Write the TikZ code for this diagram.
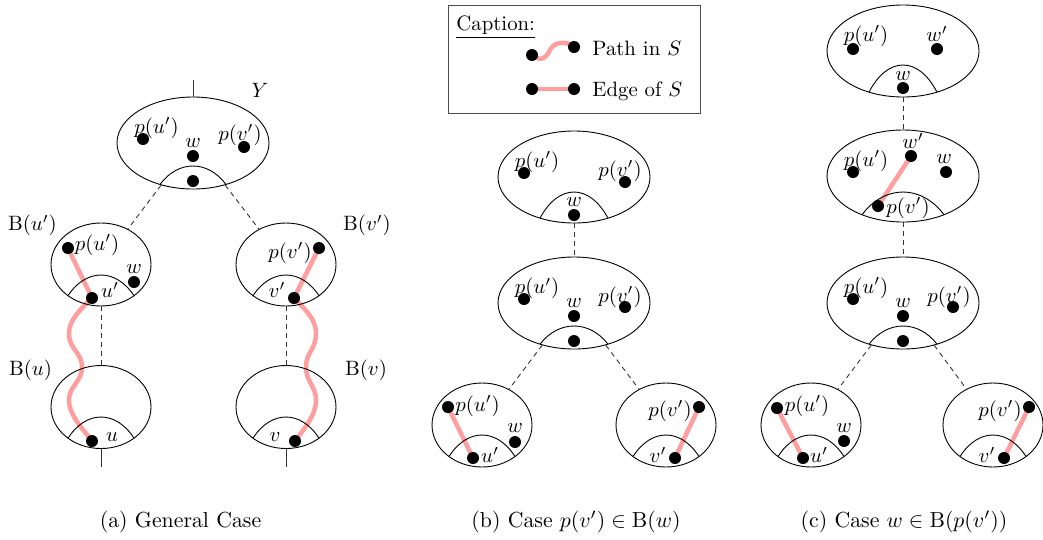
\documentclass[tikz,border=0pt]{standalone}
\usetikzlibrary{shapes.geometric}
\pgfdeclarelayer{background}
\pgfsetlayers{background,main}
\definecolor{pinkS}{RGB}{255,158,158}
\tikzset{
  bag/.style={draw, ellipse, inner sep=0pt, line width=0.9pt},
  bigbag/.style={bag, minimum width=152pt, minimum height=92pt},
  smallbag/.style={bag, minimum width=100pt, minimum height=83pt},
  dotv/.style={circle, fill=black, inner sep=0pt, minimum size=12pt},
  lab/.style={inner sep=0pt, font=\normalsize, scale=2.08},
  subcap/.style={inner sep=0pt, font=\normalsize, scale=2.18, anchor=base},
  sedge/.style={draw=pinkS, line width=4.5pt},
  treeedge/.style={draw=black!80, line width=0.9pt, dash pattern=on 5pt off 4pt},
  tail/.style={draw=black!80, line width=0.9pt},
  humpline/.style={draw, line width=0.9pt},
}
\newcommand\humpat[6]{%
  \pgfmathsetmacro\hyc{#2+#4*sqrt(1-((#5)/(#3))^2)}%
  \pgfmathsetmacro\hyo{(#6-0.25*\hyc)/0.75}%
  \draw[humpline] ({#1-#5},\hyc) .. controls ({#1-0.45*#5},\hyo) and ({#1+0.45*#5},\hyo) .. ({#1+#5},\hyc);%
}
\begin{document}
\begin{tikzpicture}[x=1pt,y=-1pt]
\useasboundingbox (0,0) rectangle (1043,539);

% ================= Panel (a) =================
\node[bigbag] (aY) at (193,143) {};
\coordinate (aYtop) at (193,80);
\draw[tail] (aYtop) -- (aY.north);
\node[lab] (aYlab) at (260,90) {$Y$};
\humpat{193}{143}{76}{46}{33}{166}
\node[lab] (aYpul) at (156.5,128) {$p(u')$};
\node[dotv] (aYpu) at (143,139) {};
\node[lab] (aYwl) at (193,143) {$w$};
\node[dotv] (aYw) at (193,156) {};
\node[lab] (aYpvl) at (240,135) {$p(v')$};
\node[dotv] (aYpv) at (244,147) {};
\node[dotv] (aYx) at (193,181) {};

\node[smallbag] (aBu1) at (101,264.5) {};
\node[lab] (aBu1l) at (32.5,225.5) {$\mathrm{B}(u')$};
\humpat{101}{264.5}{50}{41.5}{33}{275}
\node[lab] (aBu1pl) at (97,245) {$p(u')$};
\node[dotv] (aBu1p) at (68,248) {};
\node[lab] (aBu1wl) at (134,269) {$w$};
\node[dotv] (aBu1w) at (134,282) {};
\node[lab] (aBu1ul) at (110,290) {$u'$};
\node[dotv] (aBu1u) at (92,298) {};

\node[smallbag] (aBv1) at (286,264.5) {};
\node[lab] (aBv1l) at (367,225.5) {$\mathrm{B}(v')$};
\humpat{286}{264.5}{50}{41.5}{33}{275}
\node[lab] (aBv1pl) at (290,253) {$p(v')$};
\node[dotv] (aBv1p) at (319,248) {};
\node[lab] (aBv1vl) at (277,290) {$v'$};
\node[dotv] (aBv1v) at (294,298) {};

\node[smallbag] (aBu) at (101,407) {};
\node[lab] (aBul) at (30.5,370) {$\mathrm{B}(u)$};
\humpat{101}{407}{50}{41.5}{33}{417}
\node[lab] (aBuul) at (112,437) {$u$};
\node[dotv] (aBuu) at (92,441) {};

\node[smallbag] (aBv) at (286,407) {};
\node[lab] (aBvl) at (366,370) {$\mathrm{B}(v)$};
\humpat{286}{407}{50}{41.5}{33}{417}
\node[lab] (aBvvl) at (275,437) {$v$};
\node[dotv] (aBvv) at (295,441) {};

\coordinate (aBubot) at (101,467);
\coordinate (aBvbot) at (286,467);
\draw[tail] (aBu.south) -- (aBubot);
\draw[tail] (aBv.south) -- (aBvbot);

\draw[treeedge] (aY) -- (aBu1);
\draw[treeedge] (aY) -- (aBv1);
\draw[treeedge] (aBu1) -- (aBu);
\draw[treeedge] (aBv1) -- (aBv);

\node[subcap] (capa) at (180.5,527) {(a) General Case};

% ================= Legend =================
\node[draw=black!70, line width=0.9pt, minimum width=252pt, minimum height=108pt, inner sep=0pt] (legend) at (574,59) {};
\node[lab, anchor=base west] (legtitle) at (456,30.5) {\underline{Caption:}};
\node[dotv] (lgp1) at (532,55) {};
\node[dotv] (lgp2) at (574,47) {};
\node[dotv] (lge1) at (532,89) {};
\node[dotv] (lge2) at (574,89) {};
\node[lab, anchor=base west] (lgpt) at (592,55) {Path in $S$};
\node[lab, anchor=base west] (lget) at (592,96.7) {Edge of $S$};

% ================= Panel (b) =================
\node[bigbag] (b1) at (574,177) {};
\humpat{574}{177}{76}{46}{34}{192}
\node[lab] (b1pul) at (537,162) {$p(u')$};
\node[dotv] (b1pu) at (524,173) {};
\node[lab] (b1pvl) at (620,171) {$p(v')$};
\node[dotv] (b1pv) at (625,182) {};
\node[lab] (b1wl) at (574,202) {$w$};
\node[dotv] (b1w) at (574,215) {};

\node[bigbag] (b2) at (574,303) {};
\humpat{574}{303}{76}{46}{34}{326}
\node[lab] (b2pul) at (537,288.5) {$p(u')$};
\node[dotv] (b2pu) at (524,299) {};
\node[lab] (b2wl) at (574,303) {$w$};
\node[dotv] (b2w) at (574,316) {};
\node[lab] (b2pvl) at (620,297) {$p(v')$};
\node[dotv] (b2pv) at (625,307) {};
\node[dotv] (b2x) at (574,341) {};

\node[smallbag, minimum height=84pt] (b3) at (482,425) {};
\humpat{482}{425}{50}{42}{33}{435}
\node[lab] (b3pl) at (477.5,406) {$p(u')$};
\node[dotv] (b3p) at (448,407) {};
\node[lab] (b3wl) at (515,428) {$w$};
\node[dotv] (b3w) at (515,442) {};
\node[lab] (b3ul) at (490,455) {$u'$};
\node[dotv] (b3u) at (473,458) {};

\node[smallbag, minimum height=84pt] (b4) at (666,425) {};
\humpat{666}{425}{50}{42}{33}{435}
\node[lab] (b4pl) at (670,411) {$p(v')$};
\node[dotv] (b4p) at (699,407) {};
\node[lab] (b4vl) at (658,455) {$v'$};
\node[dotv] (b4v) at (675,458) {};

\draw[treeedge] (b1) -- (b2);
\draw[treeedge] (b2) -- (b3);
\draw[treeedge] (b2) -- (b4);

\node[subcap] (capb) at (576,527) {(b) Case $p(v')\in\mathrm{B}(w)$};

% ================= Panel (c) =================
\node[bigbag] (c1) at (903,51) {};
\humpat{903}{51}{76}{46}{34}{65}
\node[lab] (c1pul) at (866,36) {$p(u')$};
\node[dotv] (c1pu) at (853,49) {};
\node[lab] (c1wpl) at (937,34) {$w'$};
\node[dotv] (c1wp) at (937,49) {};
\node[lab] (c1wl) at (903,76) {$w$};
\node[dotv] (c1w) at (903,88) {};

\node[bigbag] (c2) at (903,176) {};
\humpat{903}{176}{76}{46}{41}{192}
\node[lab] (c2pul) at (866,161) {$p(u')$};
\node[dotv] (c2pu) at (853,172) {};
\node[lab] (c2wpl) at (913,141) {$w'$};
\node[dotv] (c2wp) at (911,156) {};
\node[lab] (c2wl) at (944,159) {$w$};
\node[dotv] (c2w) at (946,172) {};
\node[lab] (c2pvl) at (908,208) {$p(v')$};
\node[dotv] (c2pv) at (878,206) {};

\node[bigbag] (c3) at (903,303) {};
\humpat{903}{303}{76}{46}{34}{326}
\node[lab] (c3pul) at (866,288) {$p(u')$};
\node[dotv] (c3pu) at (853,299) {};
\node[lab] (c3wl) at (903,303) {$w$};
\node[dotv] (c3w) at (903,316) {};
\node[lab] (c3pvl) at (949,297) {$p(v')$};
\node[dotv] (c3pv) at (953,307) {};
\node[dotv] (c3x) at (903,341) {};

\node[smallbag, minimum height=84pt] (c4) at (811,425) {};
\humpat{811}{425}{50}{42}{33}{435}
\node[lab] (c4pl) at (807,406) {$p(u')$};
\node[dotv] (c4p) at (777,408) {};
\node[lab] (c4wl) at (844,428) {$w$};
\node[dotv] (c4w) at (844,441) {};
\node[lab] (c4ul) at (819,455) {$u'$};
\node[dotv] (c4u) at (803,458) {};

\node[smallbag, minimum height=84pt] (c5) at (993,425) {};
\humpat{993}{425}{50}{42}{33}{435}
\node[lab] (c5pl) at (1000,411) {$p(v')$};
\node[dotv] (c5p) at (1029,407) {};
\node[lab] (c5vl) at (987,455) {$v'$};
\node[dotv] (c5v) at (1004,458) {};

\draw[treeedge] (c1) -- (c2);
\draw[treeedge] (c2) -- (c3);
\draw[treeedge] (c3) -- (c4);
\draw[treeedge] (c3) -- (c5);

\node[subcap] (capc) at (904,527) {(c) Case $w\in\mathrm{B}(p(v'))$};

% ================= S edges and paths (behind) =================
\begin{pgfonlayer}{background}
\draw[sedge] (aBu1p.center) -- (aBu1u.center);
\draw[sedge] (aBv1p.center) -- (aBv1v.center);
\draw[sedge] (aBu1u.center) .. controls (80,310) and (69,320) .. (69,333)
   .. controls (69,350) and (82,352) .. (82,367)
   .. controls (82,382) and (69,386) .. (69,400)
   .. controls (69,416) and (84,430) .. (aBuu.center);
\draw[sedge] (aBv1v.center) .. controls (306,310) and (316,320) .. (316,333)
   .. controls (316,350) and (306,352) .. (306,367)
   .. controls (306,382) and (316,386) .. (316,400)
   .. controls (316,416) and (303,430) .. (aBvv.center);
\draw[sedge] (lgp1.center) .. controls (540,61) and (545,60) .. (550,50)
   .. controls (554,42) and (566,40) .. (lgp2.center);
\draw[sedge] (lge1.center) -- (lge2.center);
\draw[sedge] (b3p.center) -- (b3u.center);
\draw[sedge] (b4p.center) -- (b4v.center);
\draw[sedge] (c2wp.center) -- (c2pv.center);
\draw[sedge] (c4p.center) -- (c4u.center);
\draw[sedge] (c5p.center) -- (c5v.center);
\end{pgfonlayer}
\end{tikzpicture}
\end{document}
